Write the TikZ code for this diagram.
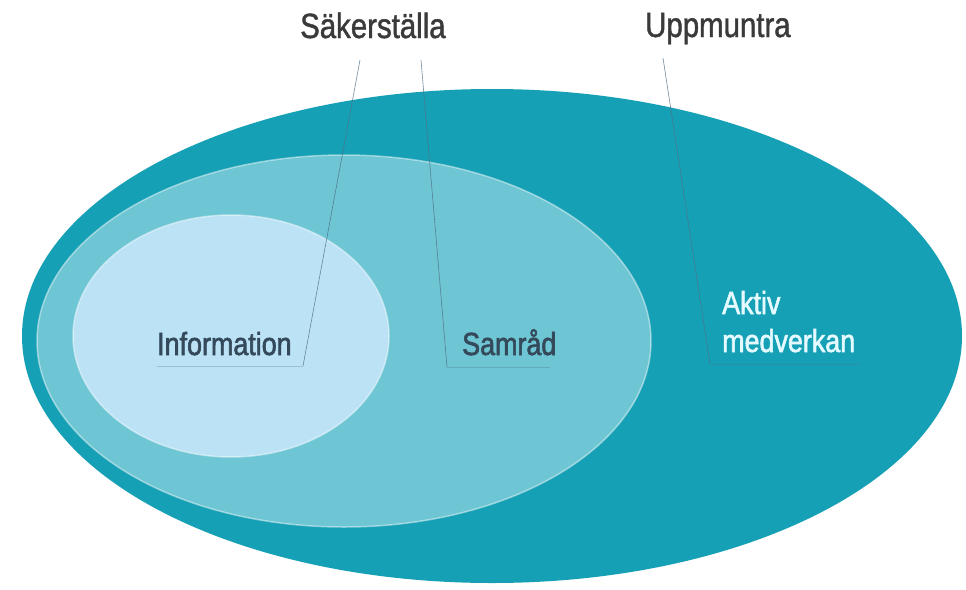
\documentclass[tikz,border=0pt]{standalone}
\usepackage{fontspec}
\newfontfamily\cond[FakeStretch=0.84,FakeBold=1.2]{Liberation Sans}
\newfontfamily\condb[FakeStretch=0.84,FakeBold=1.8]{Liberation Sans}
\definecolor{outerC}{HTML}{16A0B5}
\definecolor{midC}{HTML}{6EC5D3}
\definecolor{innerC}{HTML}{BCE2F6}
\definecolor{topT}{HTML}{3A3A3A}
\definecolor{inT}{HTML}{34495A}
\definecolor{litT}{HTML}{E4FAFF}
\definecolor{lineC}{HTML}{4F6F88}
\begin{document}
\begin{tikzpicture}[x=1pt,y=-1pt,
  toplabel/.style={anchor=base west,inner sep=0pt,text=topT,font=\cond\fontsize{35}{40}\selectfont},
  inlabel/.style={anchor=base west,inner sep=0pt,text=inT,font=\condb\fontsize{32}{38}\selectfont},
  litlabel/.style={anchor=base west,inner sep=0pt,text=litT,font=\condb\fontsize{32}{38}\selectfont},
  leader/.style={draw=lineC,line width=0.6pt,opacity=0.8},
  underl/.style={draw=lineC,line width=0.5pt,opacity=0.3}]
\useasboundingbox (0,0) rectangle (966,589);
\fill[white] (0,0) rectangle (966,589);
% ellipses
\fill[outerC] (492,336) ellipse [x radius=470,y radius=247];
\filldraw[fill=midC,draw=white,draw opacity=0.45,line width=1.5pt] (344,341) ellipse [x radius=307,y radius=186];
\filldraw[fill=innerC,draw=white,draw opacity=0.45,line width=1.5pt] (231,336) ellipse [x radius=158,y radius=121];
% labels
\node[toplabel] (sak) at (300,38) {Säkerställa};
\node[toplabel] (upp) at (645,37) {Uppmuntra};
\node[inlabel] (inf) at (157,355) {Information};
\node[inlabel] (sam) at (462,355) {Samråd};
\node[litlabel] (akt) at (722,314) {Aktiv};
\node[litlabel] (med) at (722,352) {medverkan};
% connector coordinates
\coordinate (s1) at (360,60);
\coordinate (e1) at (303,366);
\coordinate (u1) at (157,366);
\coordinate (s2) at (421,60);
\coordinate (e2) at (447,367);
\coordinate (u2) at (550,367);
\coordinate (s3) at (663,58);
\coordinate (e3) at (710,364);
\coordinate (u3) at (862,364);
\draw[leader] (s1) -- (e1);
\draw[underl] (e1) -- (u1);
\draw[leader] (s2) -- (e2);
\draw[underl] (e2) -- (u2);
\draw[leader] (s3) -- (e3);
\draw[underl] (e3) -- (u3);
\end{tikzpicture}
\end{document}
